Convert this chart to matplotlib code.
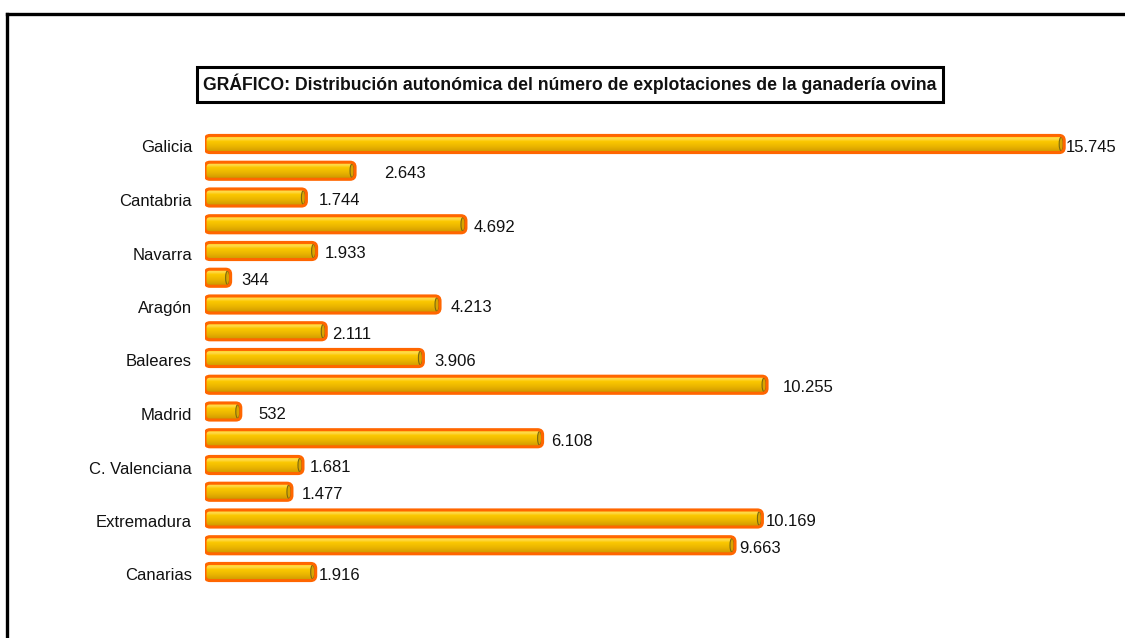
import numpy as np
import matplotlib
matplotlib.use("Agg")
import matplotlib.pyplot as plt
from matplotlib.colors import LinearSegmentedColormap
from matplotlib.patches import FancyBboxPatch, Ellipse, Rectangle
from matplotlib.lines import Line2D

plt.rcParams["font.family"] = ["Liberation Sans", "DejaVu Sans"]

# explotaciones de ovino por comunidad (orden del gráfico, de arriba abajo)
valores = [15745, 2643, 1744, 4692, 1933, 344, 4213, 2111, 3906,
           10255, 532, 6108, 1681, 1477, 10169, 9663, 1916]
# sólo se rotula una de cada dos barras
etiquetas = ["Galicia", "Cantabria", "Navarra", "Aragón", "Baleares",
             "Madrid", "C. Valenciana", "Extremadura", "Canarias"]
titulo = "GRÁFICO: Distribución autonómica del número de explotaciones de la ganadería ovina"

# desplazamiento (px) de cada rótulo de valor respecto al final de la barra
desplaz = [0, 27, 10, 6, 6, 9, 9, 4, 9, 14, 16, 7, 5, 8, 1, 2, 1]

W, H = 1125, 638
fig = plt.figure(figsize=(W / 100, H / 100), dpi=100)

n = len(valores)
paso = 26.75
y_top = 144 - paso / 2
ancho_px = 866
tapa_px = 7  # tapa izquierda del cilindro, a la izquierda del cero
ax = fig.add_axes([(212 - tapa_px) / W, 1 - (y_top + n * paso) / H,
                   (ancho_px + tapa_px) / W, n * paso / H])
ax.axis("off")

pos = np.arange(n)
alto = 0.64
grad = LinearSegmentedColormap.from_list(
    "cil", [(0.0, "#FFC800"), (0.2, "#FFDC50"), (0.35, "#FBC800"),
            (0.6, "#EDB800"), (0.85, "#D9A200"), (1.0, "#C48E00")])
img = np.linspace(0, 1, 64).reshape(-1, 1)

# escala: unidades de datos por píxel en cada eje
px_x = 16000 / ancho_px
px_y = 1 / paso
radio = 5 * px_x
aspect = (5 * px_y) / radio
x0 = -tapa_px * px_x

for yi, v in zip(pos, valores):
    caja = FancyBboxPatch((x0, yi - alto / 2), v - x0, alto,
                          boxstyle=f"round,pad=0,rounding_size={radio}",
                          mutation_aspect=aspect, facecolor="none",
                          edgecolor="#FF6600", lw=2.2, zorder=4)
    ax.add_patch(caja)
    im = ax.imshow(img, cmap=grad, aspect="auto", interpolation="bilinear",
                   extent=(x0, v, yi + alto / 2, yi - alto / 2), zorder=2)
    im.set_clip_path(caja)
    # tapa del cilindro
    ax.add_patch(Ellipse((v - 3 * px_x, yi), 4 * px_x, alto * 0.8,
                         facecolor="#D9A400", edgecolor="#7A6A10", lw=0.8,
                         zorder=3))

ax.set_xlim(x0, 16000)
ax.set_ylim(n - 0.5, -0.5)

for yi, v, d in zip(pos, valores, desplaz):
    ax.annotate(f"{v:,}".replace(",", "."), (v, yi), xytext=(d + 2, -3),
                textcoords="offset pixels", ha="left", va="center",
                fontsize=12, color="#111111", zorder=5)

for yi, lab in zip(pos[::2], etiquetas):
    ax.annotate(lab, (0, yi), xytext=(-20, -4), textcoords="offset pixels",
                ha="right", va="center", fontsize=12, color="#111111")

# recuadro del título
fig.patches.append(Rectangle((197 / W, 1 - 102 / H), 746 / W, 35 / H,
                             transform=fig.transFigure, facecolor="white",
                             edgecolor="black", lw=2.2))
fig.text(570 / W, 1 - 84 / H, titulo, ha="center", va="center",
         fontsize=12.7, fontweight="bold", color="#111111")

# marco exterior
fig.lines.append(Line2D([7 / W, 7 / W], [0, 1 - 14 / H], transform=fig.transFigure,
                        color="black", lw=2.4))
fig.lines.append(Line2D([7 / W, 1], [1 - 14 / H, 1 - 14 / H], transform=fig.transFigure,
                        color="black", lw=2.4))

fig.savefig("out.png", dpi=100)
